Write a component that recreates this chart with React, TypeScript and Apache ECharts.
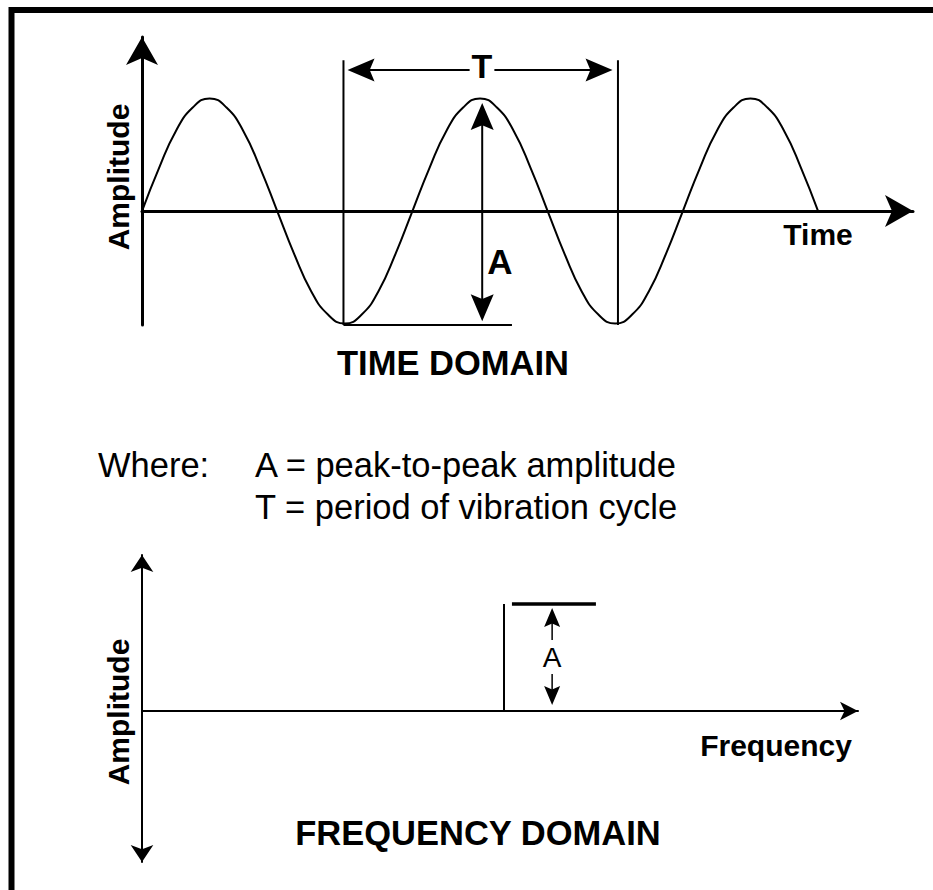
import React, { useEffect, useRef } from "react";
import * as echarts from "echarts";

const FONT = '"Liberation Sans", Arial, Helvetica, sans-serif';

// ---------- Time domain (x: periods, y: peak amplitude units) ----------
const timeX = [
  0, 0.0625, 0.125, 0.1875, 0.25, 0.3125, 0.375, 0.4375, 0.5, 0.5625, 0.625, 0.6875, 0.75, 0.8125, 0.875, 0.9375,
  1, 1.0625, 1.125, 1.1875, 1.25, 1.3125, 1.375, 1.4375, 1.5, 1.5625, 1.625, 1.6875, 1.75, 1.8125, 1.875, 1.9375,
  2, 2.0625, 2.125, 2.1875, 2.25, 2.3125, 2.375, 2.4375, 2.5,
];
const timeY = [
  0, 0.38, 0.71, 0.92, 1, 0.92, 0.71, 0.38, 0, -0.38, -0.71, -0.92, -1, -0.92, -0.71, -0.38,
  0, 0.38, 0.71, 0.92, 1, 0.92, 0.71, 0.38, 0, -0.38, -0.71, -0.92, -1, -0.92, -0.71, -0.38,
  0, 0.38, 0.71, 0.92, 1, 0.92, 0.71, 0.38, 0,
];
const timeXMax = 2.851;
const timeYMin = -1.013;
const timeYMax = 1.547;
const periodMarkers = [0.745, 1.76];
const periodMarkerTop = 1.34;
const periodArrowY = 1.253;
const periodArrowTips = [0.76, 1.74];
const ampArrowX = 1.258;
const ampArrowTips = [0.96, -0.98];
const ampBaseEnd = 1.368;

// ---------- Frequency domain (x: multiples of vibration frequency, y: amplitude units) ----------
const freqXMax = 1.978;
const freqYMin = -1.411;
const freqYMax = 1.458;
const spikeFreq = 1;
const spikeAmp = 1;
const capStart = 1.022;
const capEnd = 1.254;
const freqArrowX = 1.133;
const freqArrowTips = [0.963, 0.056];

// layout (pixels)
const TOP = { left: 142, top: 37, right: 913, bottom: 325 };
const BOT = { left: 142, top: 555, right: 858, bottom: 862 };

const HEAD = "path://M12,0 L24,28 L12,23 L0,28 Z";

function txt(text: string, x: number, y: number, size: number, weight: string, extra: any = {}, align = "center") {
  const { style, ...rest } = extra;
  return {
    type: "text",
    x,
    y,
    z: 100,
    ...rest,
    style: {
      text,
      fill: "#000",
      font: `${weight} ${size}px ${FONT}`,
      textAlign: align,
      textVerticalAlign: "middle",
      align,
      verticalAlign: "middle",
      ...(style || {}),
    },
  };
}

export default function App() {
  const ref = useRef<HTMLDivElement>(null);
  useEffect(() => {
    if (!ref.current) return;
    const chart = echarts.init(ref.current, undefined, { renderer: "svg" });

    const black = "#000";
    const hidden = { axisTick: { show: false }, axisLabel: { show: false }, splitLine: { show: false } };
    const seg = (name: string, xi: number, data: number[][], width: number) => ({
      name,
      type: "line",
      xAxisIndex: xi,
      yAxisIndex: xi,
      showSymbol: false,
      clip: false,
      silent: true,
      lineStyle: { color: black, width },
      data,
    });

    // pixels per data unit (for placing arrow heads so their tips touch the read tip values)
    const topPxX = (TOP.right - TOP.left) / timeXMax;
    const topPxY = (TOP.bottom - TOP.top) / (timeYMax - timeYMin);
    const botPxY = (BOT.bottom - BOT.top) / (freqYMax - freqYMin);

    const head = (x: number, y: number, dir: string, h: number, pxX: number, pxY: number) => {
      const rot = ({ up: 0, down: 180, left: 90, right: -90 } as any)[dir];
      let cx = x;
      let cy = y;
      if (dir === "up") cy = y - h / 2 / pxY;
      if (dir === "down") cy = y + h / 2 / pxY;
      if (dir === "left") cx = x + h / 2 / pxX;
      if (dir === "right") cx = x - h / 2 / pxX;
      return { value: [cx, cy], symbolRotate: rot };
    };

    const option: any = {
      animation: false,
      backgroundColor: "#fff",
      grid: [
        { left: TOP.left, top: TOP.top, width: TOP.right - TOP.left, height: TOP.bottom - TOP.top },
        { left: BOT.left, top: BOT.top, width: BOT.right - BOT.left, height: BOT.bottom - BOT.top },
      ],
      xAxis: [
        {
          type: "value", gridIndex: 0, min: 0, max: timeXMax, ...hidden,
          axisLine: { show: true, onZero: true, symbol: ["none", "arrow"], symbolSize: [24, 28], lineStyle: { color: black, width: 3 } },
        },
        {
          type: "value", gridIndex: 1, min: 0, max: freqXMax, ...hidden,
          axisLine: { show: true, onZero: true, symbol: ["none", "arrow"], symbolSize: [14, 18], lineStyle: { color: black, width: 2 } },
        },
      ],
      yAxis: [
        {
          type: "value", gridIndex: 0, min: timeYMin, max: timeYMax, ...hidden,
          axisLine: { show: true, onZero: true, symbol: ["none", "arrow"], symbolSize: [24, 28], lineStyle: { color: black, width: 3 } },
        },
        {
          type: "value", gridIndex: 1, min: freqYMin, max: freqYMax, ...hidden,
          axisLine: { show: true, onZero: true, symbol: ["arrow", "arrow"], symbolSize: [17, 17], lineStyle: { color: black, width: 2 } },
        },
      ],
      series: [
        {
          name: "Vibration",
          type: "line", xAxisIndex: 0, yAxisIndex: 0, smooth: true, showSymbol: false, clip: false, silent: true,
          lineStyle: { color: black, width: 2 },
          data: timeX.map((x, i) => [x, timeY[i]]),
        },
        seg("Period start", 0, [[periodMarkers[0], timeYMin], [periodMarkers[0], periodMarkerTop]], 2),
        seg("Period end", 0, [[periodMarkers[1], timeYMin], [periodMarkers[1], periodMarkerTop]], 2),
        seg("Period", 0, [[periodArrowTips[0] + 0.02, periodArrowY], [periodArrowTips[1] - 0.02, periodArrowY]], 2),
        seg("Amplitude", 0, [[ampArrowX, ampArrowTips[0] - 0.03], [ampArrowX, ampArrowTips[1] + 0.03]], 2),
        seg("Amplitude base", 0, [[periodMarkers[0], timeYMin], [ampBaseEnd, timeYMin]], 2),
        {
          name: "Heads (time)",
          type: "scatter", xAxisIndex: 0, yAxisIndex: 0, symbol: HEAD, symbolSize: [23, 27], silent: true, clip: false,
          itemStyle: { color: black, opacity: 1 },
          data: [
            head(periodArrowTips[0], periodArrowY, "left", 27, topPxX, topPxY),
            head(periodArrowTips[1], periodArrowY, "right", 27, topPxX, topPxY),
            head(ampArrowX, ampArrowTips[0], "up", 27, topPxX, topPxY),
            head(ampArrowX, ampArrowTips[1], "down", 27, topPxX, topPxY),
          ],
        },
        seg("Spectrum", 1, [[spikeFreq, 0], [spikeFreq, spikeAmp]], 2),
        seg("Peak level", 1, [[capStart, spikeAmp], [capEnd, spikeAmp]], 3.5),
        seg("Amplitude (freq)", 1, [[freqArrowX, freqArrowTips[0] - 0.03], [freqArrowX, freqArrowTips[1] + 0.03]], 1.5),
        {
          name: "Heads (freq)",
          type: "scatter", xAxisIndex: 1, yAxisIndex: 1, symbol: HEAD, symbolSize: [16, 19], silent: true, clip: false,
          itemStyle: { color: black, opacity: 1 },
          data: [
            head(freqArrowX, freqArrowTips[0], "up", 19, 1, botPxY),
            head(freqArrowX, freqArrowTips[1], "down", 19, 1, botPxY),
          ],
        },
      ],
      graphic: [
        {
          type: "rect", z: 50,
          shape: { x: 11.5, y: 10, width: 1000, height: 1000 },
          style: { fill: "none", stroke: black, lineWidth: 6 },
        },
        txt("Amplitude", 118, 177, 30, "bold", { rotation: Math.PI / 2 }),
        txt("Time", 818, 234, 30, "bold"),
        txt("T", 482, 66, 34, "bold", { style: { backgroundColor: "#fff", padding: [0, 2] } }),
        txt("A", 500, 261, 35, "bold"),
        txt("TIME DOMAIN", 453, 363, 34.5, "bold"),
        txt("Where:", 98, 465, 34.5, "normal", {}, "left"),
        txt("A = peak-to-peak amplitude", 255, 465, 34.5, "normal", {}, "left"),
        txt("T = period of vibration cycle", 255, 507, 34.5, "normal", {}, "left"),
        txt("Amplitude", 118, 712, 30, "bold", { rotation: Math.PI / 2 }),
        txt("A", 552, 657, 28, "normal", { style: { backgroundColor: "#fff", padding: [3, 2] } }),
        txt("Frequency", 776, 745, 30, "bold"),
        txt("FREQUENCY DOMAIN", 478, 833, 34.5, "bold"),
      ],
    };
    chart.setOption(option);
    return () => chart.dispose();
  }, []);
  return <div ref={ref} style={{ position: "absolute", left: 0, top: 0, width: 933, height: 890 }} />;
}
